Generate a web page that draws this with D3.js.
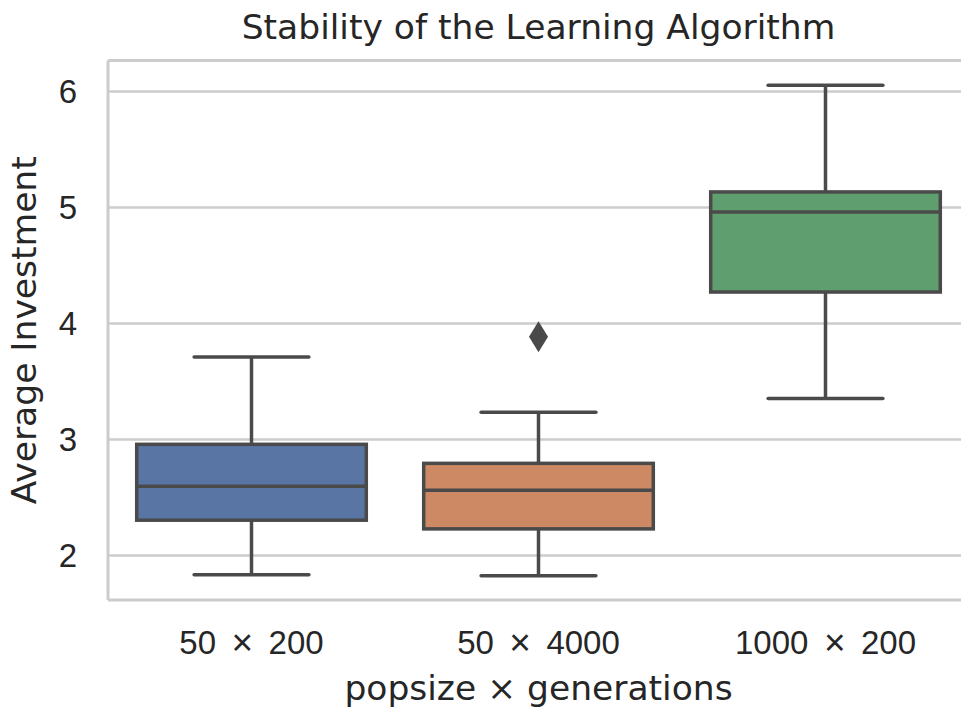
<!DOCTYPE html>
<html><head><meta charset="utf-8">
<script src="https://cdn.jsdelivr.net/npm/d3@7"></script>
<style>
html,body{margin:0;padding:0;background:#fff;}
svg{display:block;font-family:"DejaVu Sans",sans-serif;}
</style></head>
<body>
<svg id="c" width="961" height="709"></svg>
<script>
const categories = ["50 \u00d7 200", "50 \u00d7 4000", "1000 \u00d7 200"];
const whiskerLow = [1.83, 1.82, 3.35];
const q1 = [2.30, 2.225, 4.267];
const medians = [2.592, 2.558, 4.957];
const q3 = [2.954, 2.79, 5.13];
const whiskerHigh = [3.707, 3.23, 6.05];
const outliers = [[], [3.882], []];
const colors = ["#5975a4", "#cc8963", "#5f9e6e"];
const yTicks = [2, 3, 4, 5, 6];
const title = "Stability of the Learning Algorithm";
const xLabel = "popsize \u00d7 generations";
const yLabel = "Average Investment";

const svg = d3.select("#c");
const pL = 108, pR = 969, pT = 60.5, pB = 600;
const x = d3.scaleBand().domain(categories).range([pL, pR]).padding(0);
const y = d3.scaleLinear().domain([1.612, 6.263]).range([pB, pT]);
const textColor = "#262626", gridColor = "#cccccc", lineColor = "#4a4a4a";
const tickFs = 33, labelFs = 34.5;

// grid
const yAxis = d3.axisLeft(y).tickValues(yTicks).tickSize(-(pR - pL)).tickPadding(30).tickFormat(d3.format("d"));
const gy = svg.append("g").attr("transform", `translate(${pL},0)`).call(yAxis);
gy.select(".domain").remove();
gy.selectAll(".tick line").attr("stroke", gridColor).attr("stroke-width", 2.5);
gy.selectAll(".tick text").attr("fill", textColor).attr("font-size", tickFs).attr("x", -31).attr("dy", "0.36em");

// spines
svg.append("line").attr("x1", pL).attr("x2", pL).attr("y1", pT).attr("y2", pB).attr("stroke", gridColor).attr("stroke-width", 3);
svg.append("line").attr("x1", pL).attr("x2", pR).attr("y1", pB).attr("y2", pB).attr("stroke", gridColor).attr("stroke-width", 3);
svg.append("line").attr("x1", pL).attr("x2", pR).attr("y1", pT).attr("y2", pT).attr("stroke", gridColor).attr("stroke-width", 3);
svg.append("line").attr("x1", pR).attr("x2", pR).attr("y1", pT).attr("y2", pB).attr("stroke", gridColor).attr("stroke-width", 3);

// x axis
const xAxis = d3.axisBottom(x).tickSize(0).tickPadding(4);
const gx = svg.append("g").attr("transform", `translate(0,${pB})`).call(xAxis);
gx.select(".domain").remove();
gx.selectAll(".tick text").attr("fill", textColor).attr("font-size", tickFs).attr("y", 54).attr("dy", 0)
  .each(function(d) {
    const parts = d.split(" \u00d7 ");
    const t = d3.select(this).text(null);
    t.append("tspan").text(parts[0] + " ");
    t.append("tspan").attr("dx", 6.3).attr("dy", 1).attr("font-size", 37).text("\u00d7");
    t.append("tspan").attr("dx", 6.3).attr("dy", -1).text(" " + parts[1]);
  });

// boxes
const bw = x.bandwidth() * 0.8;
const g = svg.append("g");
categories.forEach((c, i) => {
  const cx = x(c) + x.bandwidth() / 2;
  const lw = 3.5;
  g.append("line").attr("x1", cx).attr("x2", cx).attr("y1", y(q1[i])).attr("y2", y(whiskerLow[i])).attr("stroke", lineColor).attr("stroke-width", lw);
  g.append("line").attr("x1", cx).attr("x2", cx).attr("y1", y(q3[i])).attr("y2", y(whiskerHigh[i])).attr("stroke", lineColor).attr("stroke-width", lw);
  [whiskerLow[i], whiskerHigh[i]].forEach(v => {
    g.append("line").attr("x1", cx - bw / 4).attr("x2", cx + bw / 4).attr("y1", y(v)).attr("y2", y(v))
      .attr("stroke", lineColor).attr("stroke-width", lw).attr("stroke-linecap", "round");
  });
  g.append("rect").attr("x", cx - bw / 2).attr("width", bw).attr("y", y(q3[i])).attr("height", y(q1[i]) - y(q3[i]))
    .attr("fill", colors[i]).attr("stroke", lineColor).attr("stroke-width", lw);
  g.append("line").attr("x1", cx - bw / 2).attr("x2", cx + bw / 2).attr("y1", y(medians[i])).attr("y2", y(medians[i]))
    .attr("stroke", lineColor).attr("stroke-width", lw);
  outliers[i].forEach(v => {
    const oy = y(v);
    g.append("path").attr("d", `M${cx},${oy - 15.5}L${cx + 9.5},${oy}L${cx},${oy + 15.5}L${cx - 9.5},${oy}Z`).attr("fill", lineColor);
  });
});

// title & labels
svg.append("text").attr("x", (pL + pR) / 2).attr("y", 39).attr("text-anchor", "middle").attr("fill", textColor).attr("font-size", labelFs).text(title);
svg.append("text").attr("x", (pL + pR) / 2).attr("y", 700).attr("text-anchor", "middle").attr("fill", textColor).attr("font-size", labelFs).text(xLabel);
svg.append("text").attr("transform", `translate(36,${(pT + pB) / 2}) rotate(-90)`).attr("text-anchor", "middle").attr("fill", textColor).attr("font-size", labelFs).text(yLabel);
</script>
</body></html>
